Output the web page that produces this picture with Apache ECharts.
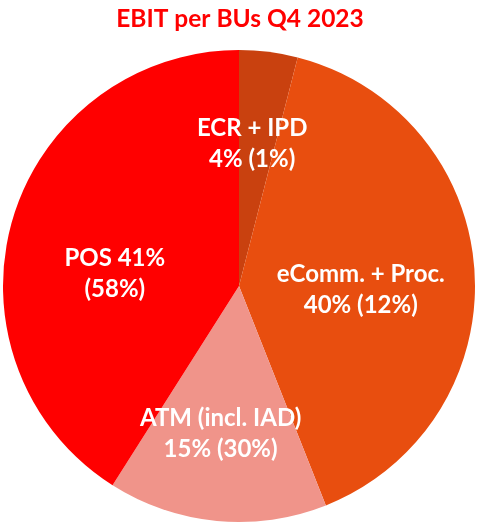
<!DOCTYPE html>
<html>
<head>
<meta charset="utf-8">
<script src="https://cdn.jsdelivr.net/npm/echarts@6/dist/echarts.min.js"></script>
<style>html,body{margin:0;padding:0;background:#fff}#c{width:477px;height:525px}</style>
</head>
<body>
<div id="c"></div>
<script>
const categories = ['ECR + IPD', 'eComm. + Proc.', 'ATM (incl. IAD)', 'POS'];
const ebitShare = [4, 40, 15, 41];
const otherShare = [1, 12, 30, 58];
const colors = ['#C9410F', '#E84E0F', '#F0948A', '#FF0000'];
const labelOffsets = [[-2, -22], [1, 11], [-7, 27], [-8, 22]];

function labelText(i) {
  if (categories[i] === 'POS') return categories[i] + ' ' + ebitShare[i] + '%\n(' + otherShare[i] + '%)';
  return categories[i] + '\n' + ebitShare[i] + '% (' + otherShare[i] + '%)';
}

const chart = echarts.init(document.getElementById('c'));
chart.setOption({
  animation: false,
  title: {
    text: 'EBIT per BUs Q4 2023',
    left: 235, top: 2, textAlign: 'center',
    textStyle: { color: '#FF0000', fontFamily: 'Lato', fontWeight: 'bold', fontSize: 24.5 }
  },
  series: [{
    type: 'pie',
    center: [239, 286],
    radius: 236,
    startAngle: 90,
    clockwise: true,
    avoidLabelOverlap: false,
    label: {
      show: true, position: 'inside',
      formatter: p => labelText(p.dataIndex),
      color: '#fff', fontFamily: 'Lato', fontWeight: 'bold', fontSize: 24, lineHeight: 31, align: 'center'
    },
    labelLine: { show: false },
    labelLayout: p => ({ dx: labelOffsets[p.dataIndex][0], dy: labelOffsets[p.dataIndex][1] }),
    emphasis: { disabled: true },
    itemStyle: { borderWidth: 0 },
    data: categories.map((c, i) => ({ name: c, value: ebitShare[i], itemStyle: { color: colors[i] } }))
  }]
});
</script>
</body>
</html>
